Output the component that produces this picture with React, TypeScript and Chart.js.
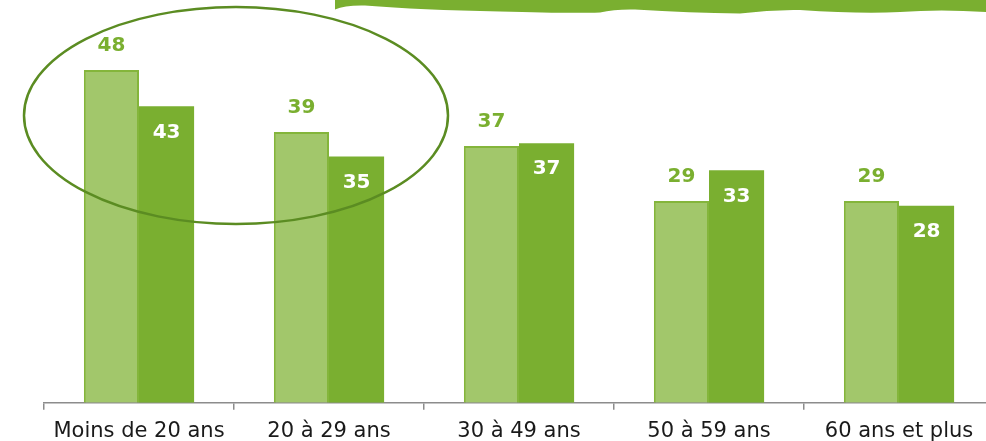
import React, { useEffect, useRef } from "react";
import { Chart, registerables } from "chart.js";

Chart.register(...registerables);

const categories = ["Moins de 20 ans", "20 à 29 ans", "30 à 49 ans", "50 à 59 ans", "60 ans et plus"];
const seriesLight = [47.8, 38.9, 36.9, 29.0, 29.0];
const seriesDark = [42.6, 35.4, 37.3, 33.4, 28.3];

const LIGHT = "#A2C76B";
const LIGHT_BORDER = "#84B53B";
const DARK = "#7AAF30";
const ELLIPSE = "#5B8C22";
const FONT = "'DejaVu Sans', Verdana, sans-serif";

const labelPlugin = {
  id: "labels",
  afterDatasetsDraw(chart: any) {
    const ctx = chart.ctx;
    ctx.save();
    ctx.font = `bold 20px ${FONT}`;
    ctx.textAlign = "center";
    ctx.textBaseline = "middle";
    chart.data.datasets.forEach((ds: any, di: number) => {
      const meta = chart.getDatasetMeta(di);
      meta.data.forEach((bar: any, i: number) => {
        const v = ds.data[i];
        if (di === 0) {
          ctx.fillStyle = DARK;
          ctx.fillText(String(Math.round(v)), bar.x, bar.y - 24);
        } else {
          ctx.fillStyle = "#FFFFFF";
          ctx.fillText(String(Math.round(v)), bar.x, bar.y + 26);
        }
      });
    });
    ctx.restore();
  },
};

const decoPlugin = {
  id: "deco",
  afterDraw(chart: any) {
    const ctx = chart.ctx;
    ctx.save();
    ctx.strokeStyle = ELLIPSE;
    ctx.lineWidth = 2.5;
    ctx.beginPath();
    ctx.ellipse(236, 115.5, 212, 108.5, 0, 0, Math.PI * 2);
    ctx.stroke();
    ctx.fillStyle = DARK;
    ctx.beginPath();
    ctx.moveTo(335, 0);
    ctx.lineTo(335, 9.5);
    ctx.quadraticCurveTo(345, 5, 365, 5.5);
    ctx.quadraticCurveTo(420, 10, 500, 11.5);
    ctx.quadraticCurveTo(570, 13.5, 600, 12.5);
    ctx.quadraticCurveTo(615, 9, 635, 9.5);
    ctx.quadraticCurveTo(690, 13, 740, 13.5);
    ctx.quadraticCurveTo(770, 9.5, 800, 10);
    ctx.quadraticCurveTo(860, 14, 900, 12);
    ctx.quadraticCurveTo(940, 9, 986, 12);
    ctx.lineTo(1000, 12);
    ctx.lineTo(1000, 0);
    ctx.closePath();
    ctx.fill();
    ctx.restore();
  },
};

export default function App() {
  const ref = useRef<HTMLCanvasElement>(null);
  useEffect(() => {
    if (!ref.current) return;
    const chart = new Chart(ref.current, {
      type: "bar",
      data: {
        labels: categories,
        datasets: [
          {
            data: seriesLight,
            backgroundColor: LIGHT,
            borderColor: LIGHT_BORDER,
            borderWidth: 2,
            categoryPercentage: 0.58,
            barPercentage: 1,
          },
          {
            data: seriesDark,
            backgroundColor: DARK,
            borderColor: DARK,
            borderWidth: 0,
            categoryPercentage: 0.58,
            barPercentage: 1,
          },
        ],
      },
      options: {
        animation: false,
        responsive: false,
        devicePixelRatio: 1,
        layout: { padding: { left: 44, right: 6, top: 20, bottom: -8 } },
        plugins: { legend: { display: false }, tooltip: { enabled: false } },
        scales: {
          x: {
            offset: true,
            grid: {
              display: true,
              offset: true,
              drawOnChartArea: false,
              drawTicks: true,
              tickLength: 7,
              color: "#8C8C8C",
              lineWidth: 1.5,
            },
            border: { display: true, color: "#8C8C8C", width: 1.5 },
            ticks: {
              color: "#1A1A1A",
              font: { family: FONT, size: 21 },
              padding: 9,
              autoSkip: false,
              maxRotation: 0,
            },
          },
          y: { display: false, min: 0, max: 55 },
        },
      },
      plugins: [labelPlugin, decoPlugin],
    });
    return () => chart.destroy();
  }, []);
  return (
    <div style={{ position: "fixed", left: 0, top: 0, width: 986, height: 441, overflow: "hidden", background: "#fff" }}>
      <canvas ref={ref} width={1000} height={445} style={{ width: 1000, height: 445, display: "block" }} />
    </div>
  );
}
